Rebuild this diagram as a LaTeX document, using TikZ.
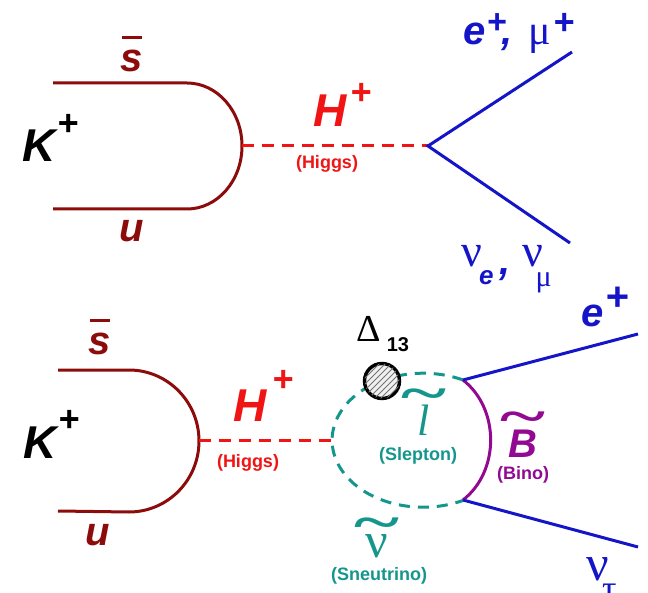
\documentclass[tikz,border=0pt]{standalone}
\usepackage{fontspec}
\setmainfont{Liberation Sans}
\newfontfamily\grk{Liberation Serif}
\usepackage{xcolor}
\usepackage{tikz}
\usetikzlibrary{patterns}

\definecolor{quark}{RGB}{140,12,12}
\definecolor{higgs}{RGB}{240,20,20}
\definecolor{lepton}{RGB}{20,20,200}
\definecolor{sfermion}{RGB}{20,150,140}
\definecolor{bino}{RGB}{145,10,145}

% bar over a quark, tilde over a sparticle, raised charge
\newcommand\qbar[1]{\shortstack{\rule{10pt}{1.5pt}\\[3pt]#1}}
\newsavebox\wigbox
\newcommand\wig[3]{\sbox\wigbox{#3}%
  \makebox[0pt][l]{\makebox[\wd\wigbox]{\raisebox{#1}{\scalebox{1.35}[0.8]{\grk\bfseries\upshape\fontsize{#2}{#2}\selectfont\textasciitilde}}}}%
  \usebox\wigbox}
\newcommand\chg[2]{\raisebox{#1}{\fontsize{#2}{#2}\selectfont +}}

\begin{document}
\begin{tikzpicture}[x=0.5pt, y=-0.5pt,
  quarkline/.style={draw=quark, line width=1.5pt},
  higgsline/.style={draw=higgs, line width=1.5pt, dash pattern=on 6pt off 4pt},
  lepline/.style={draw=lepton, line width=1.5pt},
  loopline/.style={draw=sfermion, line width=1.5pt, dash pattern=on 5.5pt off 4pt},
  binoline/.style={draw=bino, line width=1.5pt},
  blob/.style={circle, draw=black, line width=1.7pt, fill=gray!12, minimum size=17.5pt,
    inner sep=0pt, postaction={pattern=north east lines, pattern color=black!55}},
  big/.style={inner sep=0pt, anchor=base west, font=\fontsize{23}{23}\selectfont\bfseries\itshape},
  quarklab/.style={inner sep=0pt, anchor=base, text=quark, font=\fontsize{20}{20}\selectfont\bfseries\itshape},
  note/.style={inner sep=0pt, font=\fontsize{9}{9}\selectfont\bfseries}]
  \useasboundingbox (0,0) rectangle (648,593);

  % ── Top: K+ -> H+ -> lepton + neutrino ──
  \coordinate (sA) at (53,83);
  \coordinate (sAe) at (187,83);
  \coordinate (uA) at (53,209);
  \coordinate (vA) at (242,146);
  \coordinate (wA) at (428,146);
  \coordinate (lA) at (572,52);
  \coordinate (nA) at (570,243);

  \draw[quarkline] (sA) -- (sAe) arc[start angle=90, end angle=-90, x radius=27.5pt, y radius=31.5pt] -- (uA);
  \draw[higgsline] (vA) -- (wA);
  \draw[lepline] (lA) -- (wA) -- (nA);

  \node[big] (kA) at (22,162) {K\kern1pt\chg{13.4pt}{18}};
  \node[quarklab] (sbA) at (132,72) {\qbar{s}};
  \node[quarklab] (uuA) at (132,242) {u};
  \node[big, text=higgs] (hA) at (313,127) {H\kern2pt\chg{11.2pt}{18}};
  \node[note, text=higgs] (hgA) at (327,164) {(Higgs)};
  \node[big, text=lepton, font=\fontsize{20}{20}\selectfont\bfseries\itshape] (elA) at (463,45)
    {e\kern0.5pt\chg{5.5pt}{17}\kern-2.5pt,\hspace{8pt}{\grk\mdseries\upshape\fontsize{21}{21}\selectfont μ}\kern1pt\chg{5pt}{18}};
  \node[big, text=lepton, font=\fontsize{20}{20}\selectfont\bfseries\itshape] (nuA) at (461,267)
    {{\grk\mdseries\upshape\fontsize{23}{23}\selectfont ν}\kern-1.5pt\raisebox{-9pt}{\fontsize{13}{13}\selectfont e}\kern3pt\raisebox{-4pt}{,}\hspace{6pt}{\grk\mdseries\upshape\fontsize{23}{23}\selectfont ν}\kern-4pt\raisebox{-10pt}{\grk\mdseries\upshape\fontsize{15}{15}\selectfont μ}};

  % ── Bottom: K+ -> H+ -> slepton loop -> e+ nu_tau ──
  \coordinate (sB) at (58,370);
  \coordinate (sBe) at (129,370);
  \coordinate (uB) at (58,511);
  \coordinate (vB) at (199,440);
  \coordinate (lpL) at (332,440);
  \coordinate (lpT) at (463,380);
  \coordinate (lpB) at (463,500);
  \coordinate (lB) at (638,334);
  \coordinate (nB) at (638,547);

  \draw[quarkline] (sB) -- (sBe) arc[start angle=90, end angle=-90, x radius=35pt, y radius=35.5pt] -- (uB);
  \draw[higgsline] (vB) -- (lpL);
  \draw[loopline] (lpT) arc[start angle=64, end angle=296, x radius=45.5pt, y radius=33.5pt];
  \draw[binoline] (lpT) to[bend left=52] (lpB);
  \draw[lepline] (lB) -- (lpT);
  \draw[lepline] (lpB) -- (nB);
  \node[blob] (dlt) at (382,381) {};

  \node[big] (kB) at (23,458) {K\kern1pt\chg{13.4pt}{18}};
  \node[quarklab] (sbB) at (100,355) {\qbar{s}};
  \node[quarklab] (uuB) at (98,545) {u};
  \node[big, text=higgs] (hB) at (233,422) {H\kern3pt\chg{15.4pt}{18}};
  \node[note, text=higgs] (hgB) at (248,463) {(Higgs)};
  \node[inner sep=0pt, anchor=base west] (dl) at (356,342)
    {{\grk\fontsize{19}{19}\selectfont Δ}\kern3pt\raisebox{-5pt}{\fontsize{10}{10}\selectfont\bfseries 13}};
  \node[inner sep=0pt, anchor=base, text=sfermion] (sl) at (424,435)
    {\wig{12.4pt}{32}{\grk\itshape\fontsize{22}{22}\selectfont l}};
  \node[note, text=sfermion] (slN) at (418,456) {(Slepton)};
  \node[inner sep=0pt, anchor=base, text=bino, font=\fontsize{20}{20}\selectfont\bfseries\itshape] (bn) at (523,457)
    {\wig{11.9pt}{32}{B}};
  \node[note, text=bino] (bnN) at (523,475) {(Bino)};
  \node[inner sep=0pt, anchor=base, text=sfermion] (sn) at (377,557)
    {\wig{8.9pt}{32}{\grk\fontsize{25}{25}\selectfont ν}};
  \node[note, text=sfermion] (snN) at (379,576) {(Sneutrino)};
  \node[big, text=lepton, font=\fontsize{20}{20}\selectfont\bfseries\itshape] (eB) at (581,327) {e\kern1pt\chg{8pt}{20}};
  \node[big, text=lepton] (ntB) at (586,580)
    {{\grk\mdseries\upshape\fontsize{25}{25}\selectfont ν}\kern-3.5pt\raisebox{-10pt}{\grk\mdseries\upshape\fontsize{18}{18}\selectfont τ}};
\end{tikzpicture}
\end{document}
